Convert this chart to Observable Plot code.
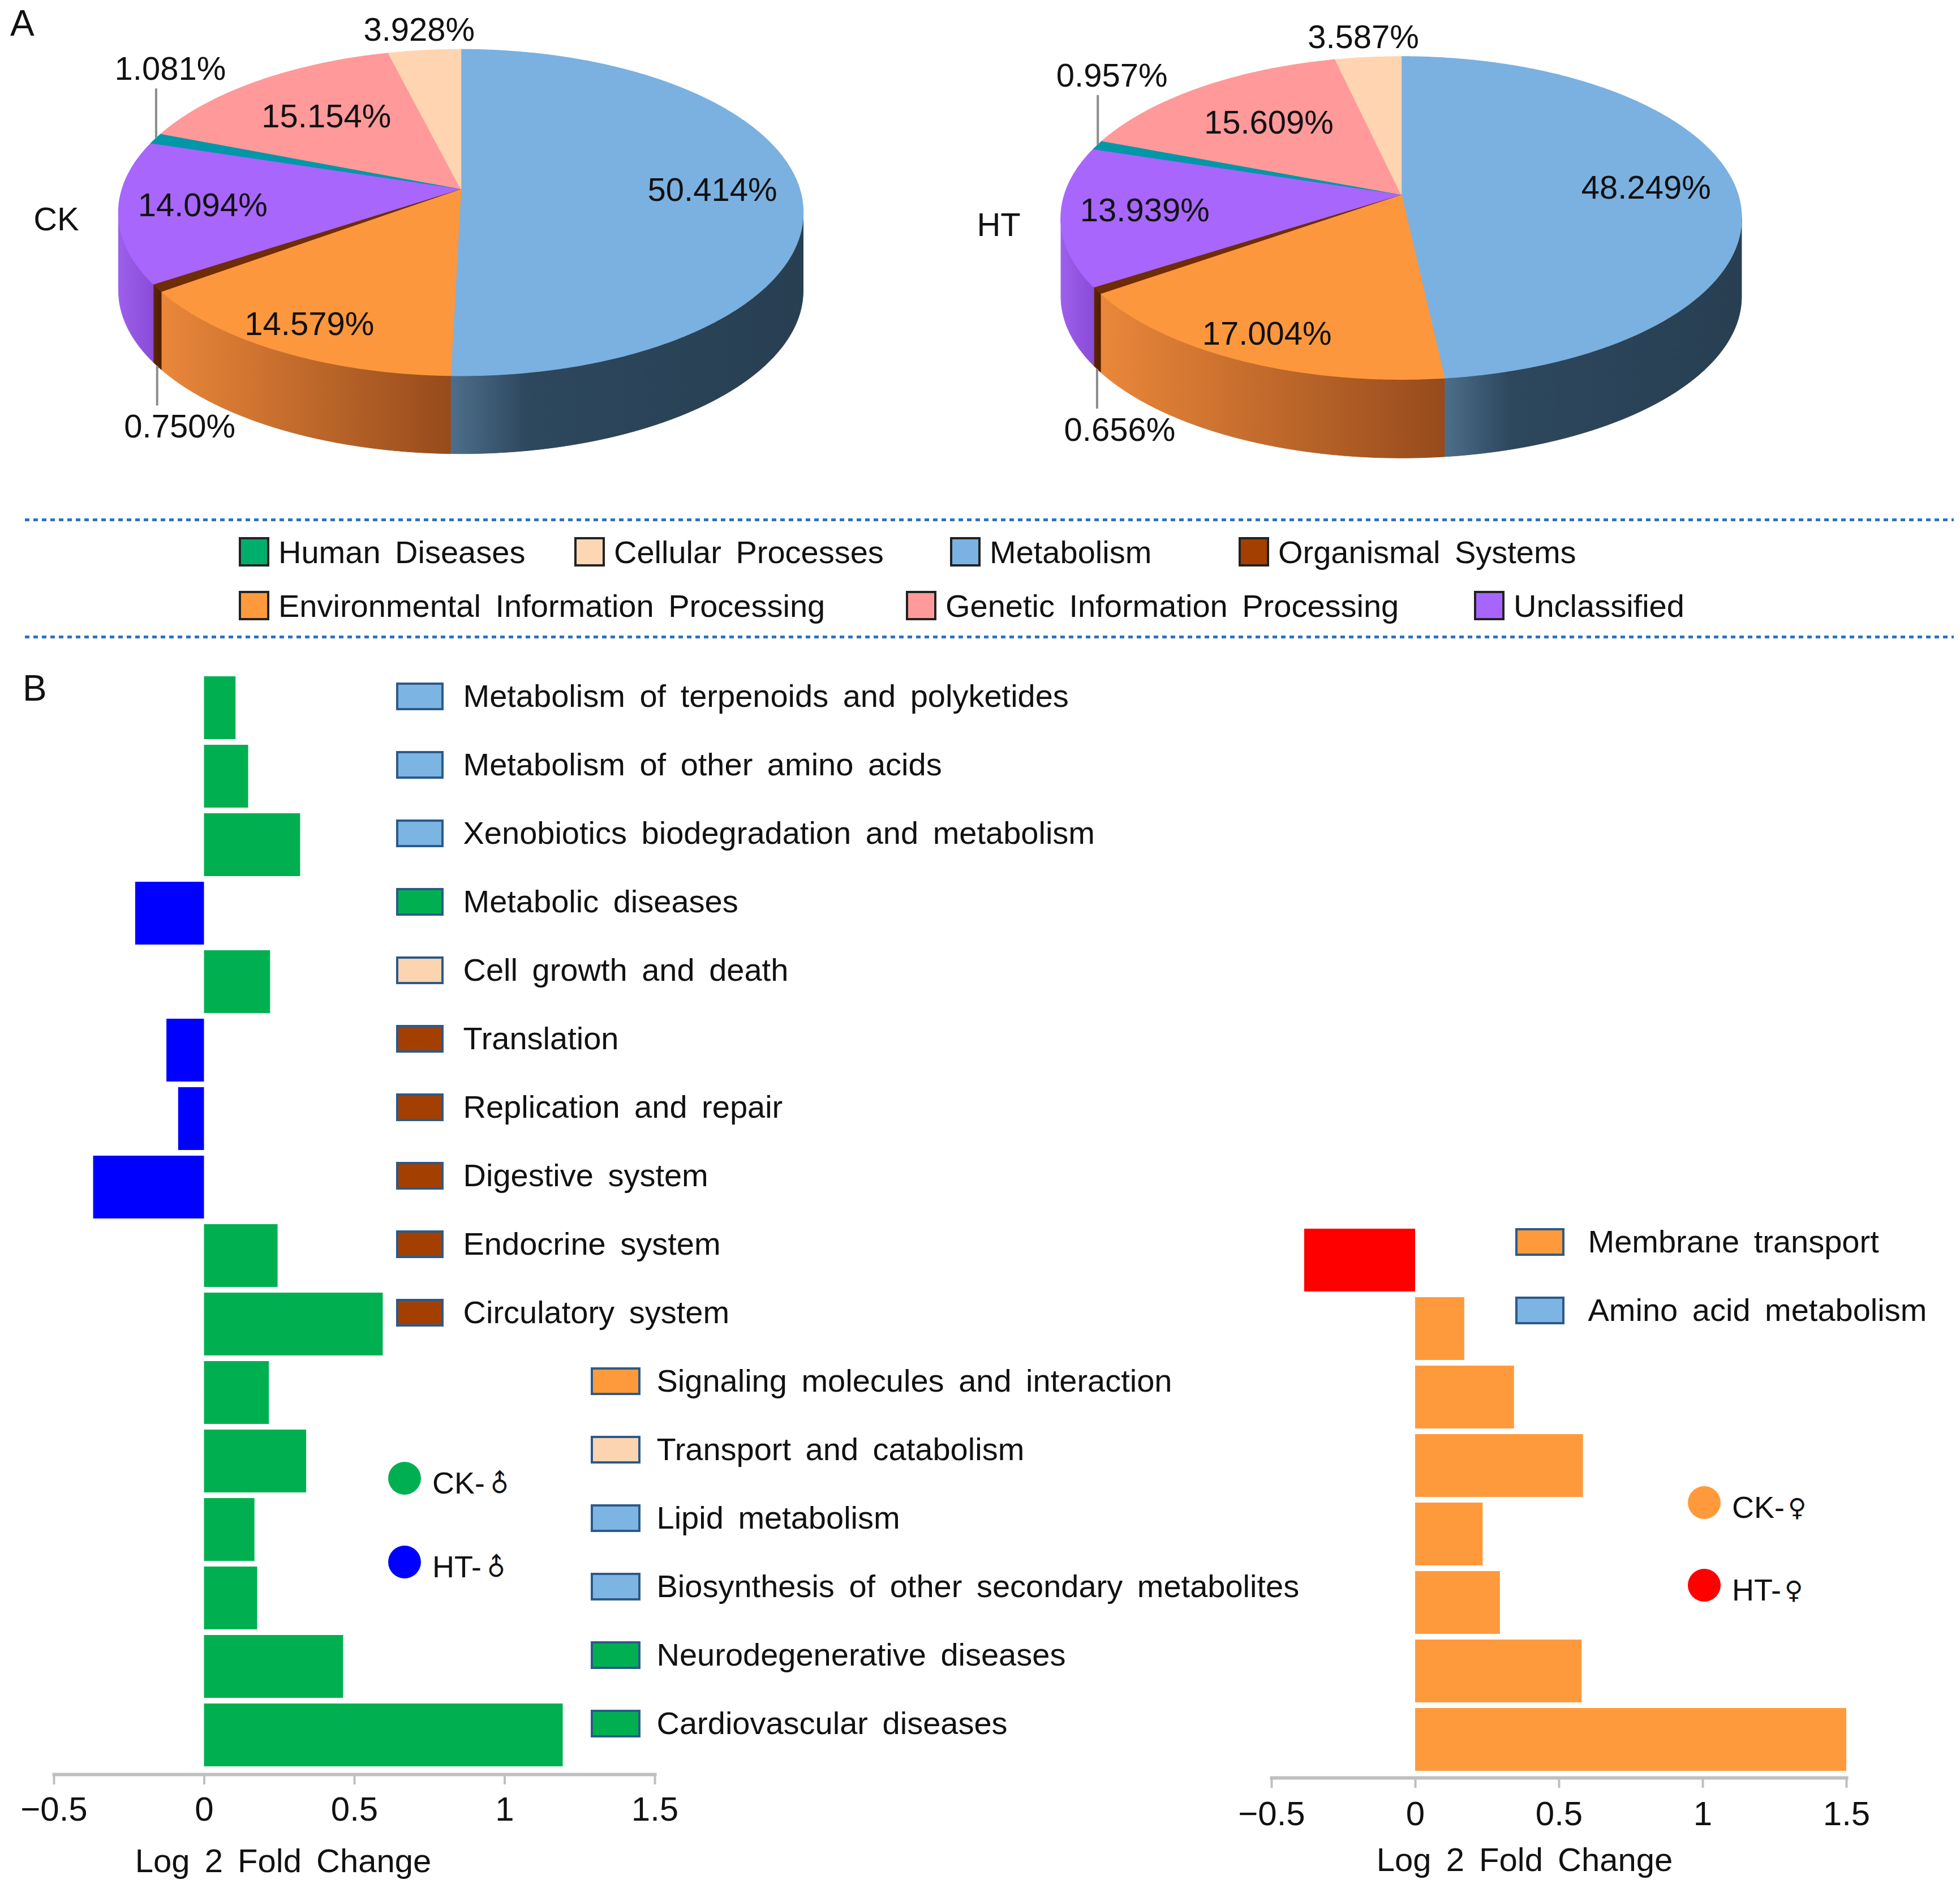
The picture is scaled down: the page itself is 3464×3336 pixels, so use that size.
<!DOCTYPE html>
<html>
<head>
<meta charset="utf-8">
<script src="https://cdn.jsdelivr.net/npm/d3@7"></script>
<script src="https://cdn.jsdelivr.net/npm/@observablehq/plot@0.6"></script>
<style>
  html, body { margin: 0; padding: 0; background: #fff; }
  #page { position: relative; width: 3464px; height: 3336px; background: #fff; overflow: hidden;
          font-family: "Liberation Sans", Arial, sans-serif; color: #111; }
  #page svg { position: absolute; left: 0; top: 0; }
  #page svg text { word-spacing: 10px; }
  .abs { position: absolute; white-space: nowrap; }
  .sw { display: inline-block; box-sizing: border-box; }
  .sym { font-family: "DejaVu Sans", sans-serif; font-size: 44px; display: inline-block; margin-left: 6px; }
</style>
</head>
<body>
<div id="page"></div>
<script>
// ------------------------------------------------------------------ DATA
const pieCategories = ["Metabolism", "Environmental Information Processing", "Organismal Systems",
  "Unclassified", "Human Diseases", "Genetic Information Processing", "Cellular Processes"];
const ckShares = [50.414, 14.579, 0.750, 14.094, 1.081, 15.154, 3.928];
const htShares = [48.249, 17.004, 0.656, 13.939, 0.957, 15.609, 3.587];
const pieNames = ["CK", "HT"];

const legendRow1 = ["Human Diseases", "Cellular Processes", "Metabolism", "Organismal Systems"];
const legendRow2 = ["Environmental Information Processing", "Genetic Information Processing", "Unclassified"];

const maleCategories = ["Metabolism of terpenoids and polyketides", "Metabolism of other amino acids",
  "Xenobiotics biodegradation and metabolism", "Metabolic diseases", "Cell growth and death",
  "Translation", "Replication and repair", "Digestive system", "Endocrine system", "Circulatory system",
  "Signaling molecules and interaction", "Transport and catabolism", "Lipid metabolism",
  "Biosynthesis of other secondary metabolites", "Neurodegenerative diseases", "Cardiovascular diseases"];
const maleClasses = ["Metabolism", "Metabolism", "Metabolism", "Human Diseases", "Cellular Processes",
  "Organismal Systems", "Organismal Systems", "Organismal Systems", "Organismal Systems", "Organismal Systems",
  "Environmental Information Processing", "Cellular Processes", "Metabolism", "Metabolism",
  "Human Diseases", "Human Diseases"];
const maleValues = [0.105, 0.147, 0.320, -0.229, 0.220, -0.125, -0.086, -0.369,
  0.245, 0.595, 0.216, 0.340, 0.168, 0.177, 0.463, 1.194];

const femaleCategories = ["Membrane transport", "Amino acid metabolism",
  "Signaling molecules and interaction", "Transport and catabolism", "Lipid metabolism",
  "Biosynthesis of other secondary metabolites", "Neurodegenerative diseases", "Cardiovascular diseases"];
const femaleClasses = ["Environmental Information Processing", "Metabolism",
  "Environmental Information Processing", "Cellular Processes", "Metabolism", "Metabolism",
  "Human Diseases", "Human Diseases"];
const femaleValues = [-0.386, 0.171, 0.344, 0.584, 0.235, 0.295, 0.579, 1.500];

const xTicks = [-0.5, 0, 0.5, 1, 1.5];
const axisTitle = "Log 2 Fold Change";
const maleGroups = ["CK-", "HT-"];
const femaleGroups = ["CK-", "HT-"];
const maleSymbol = "♂", femaleSymbol = "♀";

// ------------------------------------------------------------------ STYLES / LAYOUT
const W = 3464, H = 3336;
const topFill = {
  "Metabolism": "#7ab1e0", "Environmental Information Processing": "#fd973d",
  "Organismal Systems": "#6e2d06", "Unclassified": "#a866fd", "Human Diseases": "#0097a9",
  "Genetic Information Processing": "#ff999a", "Cellular Processes": "#ffd5b1"
};
const sideStops = {
  "Metabolism": [[0, "#4d6e8b"], [0.22, "#2d475d"], [1, "#283f52"]],
  "Environmental Information Processing": [[0, "#ea873a"], [1, "#964b1c"]],
  "Organismal Systems": [[0, "#602604"], [1, "#4e1c00"]],
  "Unclassified": [[0, "#9d60eb"], [1, "#8a4cd8"]],
  "Human Diseases": [[0, "#007c8a"], [1, "#005f6a"]],
  "Genetic Information Processing": [[0, "#d98080"], [1, "#b36a6a"]],
  "Cellular Processes": [[0, "#e0bc9c"], [1, "#c2a286"]]
};
const legendFill = {
  "Human Diseases": "#00ae6b", "Cellular Processes": "#fdd7b4", "Metabolism": "#7ab3e3",
  "Organismal Systems": "#a33f00", "Environmental Information Processing": "#ff9a3c",
  "Genetic Information Processing": "#ff9a9a", "Unclassified": "#a865fd"
};
const swatchFill = {
  "Metabolism": "#7cb4e4", "Human Diseases": "#00b050", "Cellular Processes": "#fdd4b0",
  "Organismal Systems": "#a33f00", "Environmental Information Processing": "#ff9a3c"
};
const pieGeom = {
  CK: { cx: 814, cy: 333, a: 598.5, b: 282, k: 0.146, depth: 138 },
  HT: { cx: 2476, cy: 343, a: 595, b: 279, k: 0.146, depth: 139 }
};
const legendLayout = { row1: { top: 975, lefts: [422, 1015, 1679, 2189] },
                       row2: { top: 1070, lefts: [422, 1601, 2605] } };
const fontFamily = '"Liberation Sans", Arial, sans-serif';
const page = document.getElementById("page");

// ------------------------------------------------------------------ PANEL A : 3-D pies
function project(g, t, f = 1) {
  const X = f * Math.sin(t), Z = f * Math.cos(t), den = 1 + g.k * Z;
  return { x: g.cx + g.a * X / den, y: g.cy - g.b * Z / den };
}
const pieMarks = [], gradients = [], pieLabels = [], leaders = [], nameLabels = [];
[[pieNames[0], ckShares], [pieNames[1], htShares]].forEach(([name, shares]) => {
  const g = pieGeom[name];
  const arcs = d3.pie().sort(null).value(d => d)(shares);
  const sil0 = Math.acos(-g.k), sil1 = 2 * Math.PI - sil0;
  const step = Math.PI / 360;
  const tops = [], sides = [];
  arcs.forEach((arc, i) => {
    const cat = pieCategories[i];
    const span = arc.endAngle - arc.startAngle;
    const n = Math.max(2, Math.ceil(span / step));
    const rim = d3.range(n + 1).map(j => project(g, arc.startAngle + span * j / n));
    const c = { x: g.cx, y: g.cy };
    tops.push({ cat, pts: [c, ...rim, c] });
    const s0 = Math.max(arc.startAngle, sil0), s1 = Math.min(arc.endAngle, sil1);
    if (s1 > s0) {
      const m = Math.max(2, Math.ceil((s1 - s0) / step));
      const up = d3.range(m + 1).map(j => project(g, s0 + (s1 - s0) * j / m));
      const down = up.map(p => ({ x: p.x, y: p.y + g.depth })).reverse();
      const id = `side-${name}-${i}`;
      gradients.push({ id, stops: sideStops[cat] });
      sides.push({ id, pts: [...up, ...down, up[0]] });
    }
    const mid = (arc.startAngle + arc.endAngle) / 2;
    const text = d3.format(".3f")(shares[i]) + "%";
    if (shares[i] >= 5) {
      const p = project(g, mid, 0.74 - 0.13 * Math.cos(mid));
      pieLabels.push({ x: p.x, y: p.y, text });
    } else if (Math.cos(mid) > 0.9) {
      const p = project(g, mid, 1.17);
      pieLabels.push({ x: p.x, y: p.y, text });
    } else if (Math.cos(mid) > 0) {
      const p = project(g, mid);
      leaders.push({ x1: p.x, y1: p.y, x2: p.x, y2: p.y - 88 });
      pieLabels.push({ x: p.x + 25, y: p.y - 88 - 34, text });
    } else {
      const p = project(g, mid);
      const yb = p.y + g.depth;
      leaders.push({ x1: p.x, y1: yb, x2: p.x, y2: yb + 70 });
      pieLabels.push({ x: p.x + 40, y: yb + 70 + 38, text });
    }
  });
  nameLabels.push({ x: g.cx - g.a / Math.sqrt(1 - g.k * g.k) - 110, y: g.cy + 55, text: name });
  sides.forEach(s => pieMarks.push(Plot.line(s.pts, { x: "x", y: "y", fill: `url(#${s.id})`, stroke: `url(#${s.id})`, strokeWidth: 1 })));
  tops.forEach(t => pieMarks.push(Plot.line(t.pts, { x: "x", y: "y", fill: topFill[t.cat], stroke: topFill[t.cat], strokeWidth: 1.5 })));
});

const pieSvg = Plot.plot({
  width: W, height: 1150, margin: 0,
  x: { type: "linear", domain: [0, W], range: [0, W], axis: null },
  y: { type: "linear", domain: [0, 1150], range: [0, 1150], axis: null },
  style: { background: "transparent", fontFamily, overflow: "visible" },
  marks: [
    ...pieMarks,
    Plot.link(leaders, { x1: "x1", y1: "y1", x2: "x2", y2: "y2", stroke: "#8c8c8c", strokeWidth: 4 }),
    Plot.text(pieLabels, { x: "x", y: "y", text: "text", fontSize: 58, fill: "#111" }),
    Plot.text(nameLabels, { x: "x", y: "y", text: "text", fontSize: 58, fill: "#111" }),
    Plot.ruleY([918, 1125], { x1: 44, x2: 3453, stroke: "#2a74c0", strokeWidth: 5, strokeDasharray: "8,7" })
  ]
});
{
  const defs = d3.select(pieSvg).insert("defs", ":first-child");
  gradients.forEach(gr => {
    const lg = defs.append("linearGradient").attr("id", gr.id)
      .attr("x1", "0").attr("x2", "1").attr("y1", "0").attr("y2", "0");
    gr.stops.forEach(([o, c]) => lg.append("stop").attr("offset", o).attr("stop-color", c));
  });
}
page.appendChild(pieSvg);

// category legend (HTML)
function legendItem(label, left, centerY) {
  const d = document.createElement("div");
  d.className = "abs";
  d.style.cssText = `left:${left}px;top:${centerY - 32}px;height:64px;display:flex;align-items:center;font-size:56px;word-spacing:10px;`;
  const s = document.createElement("span");
  s.className = "sw";
  s.style.cssText = `width:54px;height:52px;background:${legendFill[label]};border:4px solid #222;margin-right:16px;`;
  const t = document.createElement("span");
  t.textContent = label;
  d.appendChild(s); d.appendChild(t);
  page.appendChild(d);
}
legendRow1.forEach((l, i) => legendItem(l, legendLayout.row1.lefts[i], legendLayout.row1.top));
legendRow2.forEach((l, i) => legendItem(l, legendLayout.row2.lefts[i], legendLayout.row2.top));

// panel letters
function letter(txt, left, top) {
  const d = document.createElement("div");
  d.className = "abs";
  d.style.cssText = `left:${left}px;top:${top}px;font-size:64px;line-height:1;`;
  d.textContent = txt;
  page.appendChild(d);
}
letter("A", 18, 9);
letter("B", 40, 1184);

// ------------------------------------------------------------------ PANEL B : bar charts
function barChart({ cats, classes, values, frame, posFill, negFill, labelRows, swatch, textX, labelDy, titleX, titleDy, tickPadding }) {
  const xOf = px => -0.5 + 2 * (px - frame.left) / (frame.right - frame.left);
  const data = cats.map((c, i) => ({ cat: c, cls: classes[i], value: values[i] }));
  const labelMarks = [];
  labelRows.forEach((rows, k) => {
    const sub = data.filter(d => rows.includes(d.cat));
    labelMarks.push(
      Plot.barX(sub, { x1: () => xOf(swatch[k][0]), x2: () => xOf(swatch[k][1]), y: "cat",
        fill: d => swatchFill[d.cls], stroke: "#2b5a8a", strokeWidth: 4, insetTop: 33, insetBottom: 33, dy: labelDy }),
      Plot.text(sub, { x: () => xOf(textX[k]), y: "cat", text: "cat", textAnchor: "start",
        fontSize: 56, fill: "#111", dy: labelDy })
    );
  });
  return Plot.plot({
    width: W, height: H,
    marginLeft: frame.left, marginRight: W - frame.right, marginTop: frame.top, marginBottom: H - frame.bottom,
    x: { domain: [-0.5, 1.5], axis: null },
    y: { type: "band", domain: cats, padding: 0.08, axis: null },
    color: { type: "identity" },
    style: { background: "transparent", fontFamily, overflow: "visible" },
    marks: [
      Plot.barX(data, { filter: d => d.value >= 0, x1: () => 0, x2: "value", y: "cat", fill: posFill }),
      Plot.barX(data, { filter: d => d.value < 0, x1: () => 0, x2: "value", y: "cat", fill: negFill }),
      Plot.frame({ anchor: "bottom", stroke: "#bfbfbf", strokeWidth: 6 }),
      Plot.axisX({ ticks: xTicks, tickFormat: d => String(d).replace("-", "−"), tickSize: 18, tickPadding,
        fontSize: 60, stroke: "#bfbfbf", strokeWidth: 4, fill: "#111", label: null }),
      Plot.text([axisTitle], { x: () => xOf(titleX), text: d => d, frameAnchor: "bottom", dy: titleDy, fontSize: 58, fill: "#111" }),
      ...labelMarks
    ]
  });
}

const leftSvg = barChart({
  cats: maleCategories, classes: maleClasses, values: maleValues,
  frame: { left: 95, right: 1157, top: 1182, bottom: 3135 },
  posFill: "#00b050", negFill: "#0000ff",
  labelRows: [maleCategories.slice(0, 10), maleCategories.slice(10)],
  swatch: [[702, 782], [1046, 1130]], textX: [818, 1160], labelDy: -20,
  titleX: 500, titleDy: 172, tickPadding: 21
});
page.appendChild(leftSvg);

const rightSvg = barChart({
  cats: femaleCategories, classes: femaleClasses, values: femaleValues,
  frame: { left: 2247, right: 3263, top: 2160, bottom: 3141 },
  posFill: "#ff9a3c", negFill: "#ff0000",
  labelRows: [femaleCategories.slice(0, 2)],
  swatch: [[2680, 2763]], textX: [2806], labelDy: -32,
  titleX: 2694, titleDy: 164, tickPadding: 23
});
page.appendChild(rightSvg);

// group legends (HTML)
function groupLegend(groups, symbol, rotate, colors, left, firstCenter, rowGap) {
  groups.forEach((g, i) => {
    const d = document.createElement("div");
    d.className = "abs";
    const cy = firstCenter + i * rowGap;
    d.style.cssText = `left:${left}px;top:${cy - 32}px;height:64px;display:flex;align-items:center;font-size:54px;`;
    const c = document.createElement("span");
    c.className = "sw";
    c.style.cssText = `width:58px;height:58px;border-radius:50%;background:${colors[i]};margin-right:20px;position:relative;top:-8px;`;
    const t = document.createElement("span");
    t.textContent = g;
    const s = document.createElement("span");
    s.className = "sym"; s.textContent = symbol;
    if (rotate) s.style.transform = `rotate(${rotate}deg)`;
    d.appendChild(c); d.appendChild(t); d.appendChild(s);
    page.appendChild(d);
  });
}
groupLegend(maleGroups, maleSymbol, -45, ["#00b050", "#0000ff"], 686, 2620, 148);
groupLegend(femaleGroups, femaleSymbol, 0, ["#ff9a3c", "#ff0000"], 2983, 2663, 146);
</script>
</body>
</html>
